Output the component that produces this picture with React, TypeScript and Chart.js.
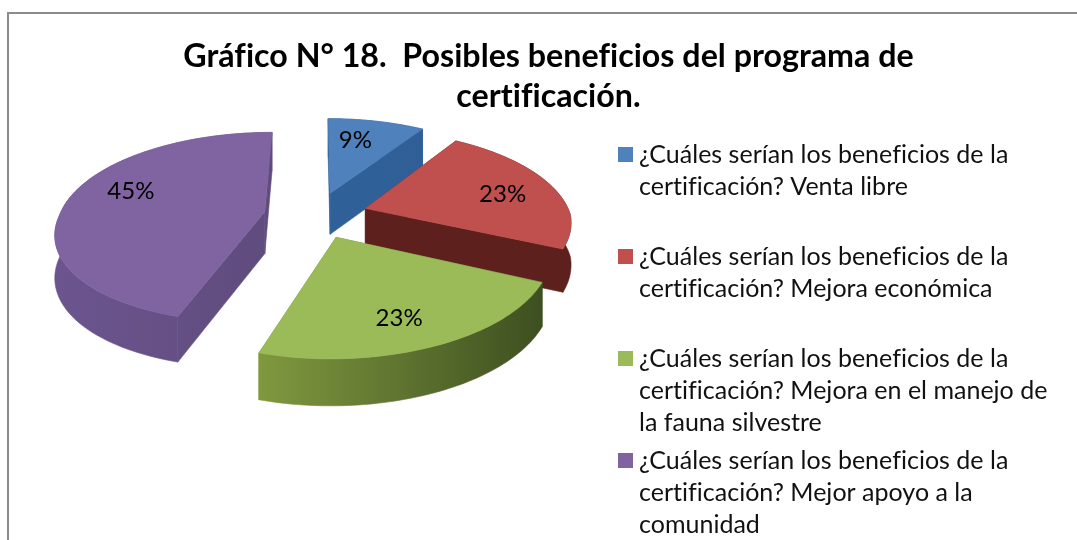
import React, { useEffect, useRef } from "react";
import { Chart, registerables } from "chart.js";

Chart.register(...registerables);

const categories = [
  "¿Cuáles serían los beneficios de la certificación? Venta libre",
  "¿Cuáles serían los beneficios de la certificación? Mejora económica",
  "¿Cuáles serían los beneficios de la certificación? Mejora en el manejo de la fauna silvestre",
  "¿Cuáles serían los beneficios de la certificación? Mejor apoyo a la comunidad",
];
const legendLines = [
  ["¿Cuáles serían los beneficios de la", "certificación? Venta libre"],
  ["¿Cuáles serían los beneficios de la", "certificación? Mejora económica"],
  ["¿Cuáles serían los beneficios de la", "certificación? Mejora en el manejo de", "la fauna silvestre"],
  ["¿Cuáles serían los beneficios de la", "certificación? Mejor apoyo a la", "comunidad"],
];
const values = [2, 5, 5, 10];
const topColors = ["#4f81bd", "#c0504d", "#9bbb59", "#8064a2"];
const wallLeftColors = ["#2f6199", "#5e201d", "#80993f", "#6c558f"];
const wallRightColors = ["#2f5f96", "#5e201d", "#3d4f20", "#5f4b7c"];
const titleLines = ["Gráfico N° 18.  Posibles beneficios del programa de", "certificación."];
const labelFractions = [0.7, 0.72, 0.756, 0.727];
const labelTurnsDeg = [-4, 3.4, 3, 10];
const paintOrder = [3, 0, 1, 2];

const FONT = "Lato, Carlito, sans-serif";
const TILT = 0.455;
const PERSPECTIVE = 0.0008;
const NEAR_SHEAR = 0.05;
const DEPTH = 42;

const project = (cx: number, cy: number, u: number, v: number, z: number) => {
  const w = 1 / (1 - PERSPECTIVE * v);
  return {
    x: cx + u * w - NEAR_SHEAR * Math.max(v, 0),
    y: cy + TILT * v * w + z * Math.sqrt(w),
  };
};

const pie3d = {
  id: "pie3d",
  beforeDraw(chart: any) {
    const ctx = chart.ctx;
    ctx.letterSpacing = "0.01px";
    ctx.save();
    ctx.strokeStyle = "#8c8c8c";
    ctx.lineWidth = 2;
    ctx.beginPath();
    ctx.moveTo(8, 540);
    ctx.lineTo(8, 13);
    ctx.lineTo(1077, 13);
    ctx.stroke();
    ctx.restore();
  },
  beforeDatasetDraw(chart: any) {
    const ctx = chart.ctx;
    const arcs = chart.getDatasetMeta(0).data;
    for (const i of paintOrder) {
      const el = arcs[i];
      const { x: cx, y: cy, startAngle, endAngle, outerRadius } = el.getProps(
        ["x", "y", "startAngle", "endAngle", "outerRadius"],
        true
      );
      const mid = (startAngle + endAngle) / 2;
      const d = el.options.offset / 4;
      const ax = Math.cos(mid) * d;
      const ay = Math.sin(mid) * d;
      const steps = 72;
      const rim: { u: number; v: number }[] = [];
      for (let s = 0; s <= steps; s++) {
        const a = startAngle + ((endAngle - startAngle) * s) / steps;
        rim.push({ u: ax + Math.cos(a) * outerRadius, v: ay + Math.sin(a) * outerRadius });
      }
      const apex = { u: ax, v: ay };
      const P = (p: { u: number; v: number }, z: number) => project(cx, cy, p.u, p.v, z);
      const face = (pts: { x: number; y: number }[], fill: any) => {
        ctx.beginPath();
        pts.forEach((p, k) => (k ? ctx.lineTo(p.x, p.y) : ctx.moveTo(p.x, p.y)));
        ctx.closePath();
        ctx.fillStyle = fill;
        ctx.strokeStyle = fill;
        ctx.lineWidth = 0.6;
        ctx.fill();
        ctx.stroke();
      };
      const topPts = [P(apex, 0), ...rim.map((p) => P(p, 0))];
      const xs = topPts.map((p) => p.x);
      const g = ctx.createLinearGradient(Math.min(...xs), 0, Math.max(...xs), 0);
      g.addColorStop(0, wallLeftColors[i]);
      g.addColorStop(1, wallRightColors[i]);
      face([P(apex, 0), P(rim[0], 0), P(rim[0], DEPTH), P(apex, DEPTH)], g);
      face([P(apex, 0), P(rim[steps], 0), P(rim[steps], DEPTH), P(apex, DEPTH)], g);
      face([...rim.map((p) => P(p, 0)), ...rim.slice().reverse().map((p) => P(p, DEPTH))], g);
      face(topPts, topColors[i]);
    }
    return false;
  },
  afterDatasetsDraw(chart: any) {
    const ctx = chart.ctx;
    const arcs = chart.getDatasetMeta(0).data;
    const total = values.reduce((a, b) => a + b, 0);
    ctx.save();
    ctx.fillStyle = "#000";
    ctx.font = `24px ${FONT}`;
    ctx.textAlign = "center";
    ctx.textBaseline = "middle";
    arcs.forEach((el: any, i: number) => {
      const { x: cx, y: cy, startAngle, endAngle, outerRadius } = el.getProps(
        ["x", "y", "startAngle", "endAngle", "outerRadius"],
        true
      );
      const mid = (startAngle + endAngle) / 2;
      const d = el.options.offset / 4;
      const a = mid + (labelTurnsDeg[i] * Math.PI) / 180;
      const r = outerRadius * labelFractions[i];
      const p = project(cx, cy, Math.cos(mid) * d + Math.cos(a) * r, Math.sin(mid) * d + Math.sin(a) * r, 0);
      ctx.fillText(`${Math.round((values[i] / total) * 100)}%`, p.x, p.y);
    });
    ctx.textAlign = "left";
    ctx.font = `25px ${FONT}`;
    legendLines.forEach((lines, i) => {
      const top = 155 + i * 102;
      ctx.fillStyle = topColors[i];
      ctx.fillRect(618, top - 8, 15, 15);
      ctx.fillStyle = "#111";
      lines.forEach((t, k) => ctx.fillText(t, 639, top + k * 32));
    });
    ctx.restore();
  },
};

export default function App() {
  const ref = useRef<HTMLCanvasElement>(null);
  useEffect(() => {
    const chart = new Chart(ref.current!, {
      type: "pie",
      data: {
        labels: categories,
        datasets: [
          {
            data: values,
            backgroundColor: topColors,
            borderWidth: 0,
            offset: 208,
            radius: 205,
          } as any,
        ],
      },
      options: {
        responsive: false,
        animation: false,
        layout: { padding: { left: 0, right: 445, top: 0, bottom: 197 } },
        plugins: {
          legend: { display: false },
          tooltip: { enabled: false },
          title: {
            display: true,
            text: titleLines,
            color: "#000",
            font: { family: FONT, size: 32.2, weight: "bold", lineHeight: "40px" },
            padding: { top: 37, bottom: -30 },
          },
        },
      },
      plugins: [pie3d],
    } as any);
    const tb: any = (chart as any).titleBlock;
    tb.left = 20;
    tb.right = 1077;
    chart.draw();
    return () => chart.destroy();
  }, []);
  return (
    <div style={{ position: "fixed", left: 0, top: 0, width: 1077, height: 540, background: "#fff" }}>
      <canvas ref={ref} width={1077} height={540} style={{ display: "block" }} />
    </div>
  );
}
